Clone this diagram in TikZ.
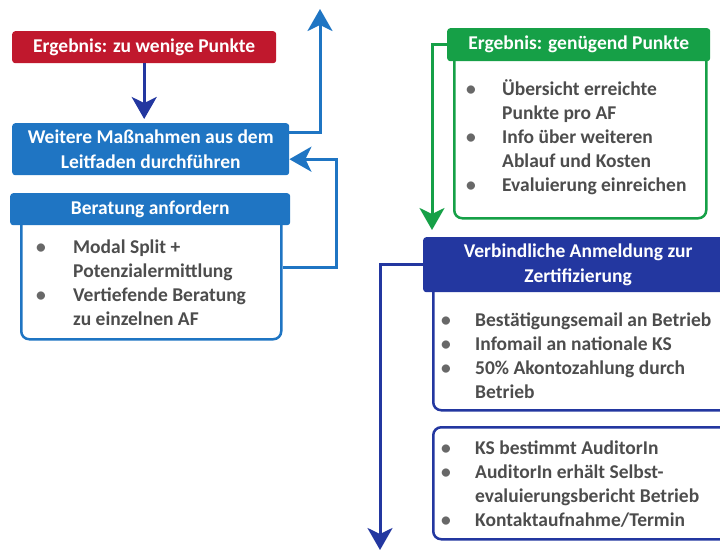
\documentclass[tikz,border=0pt]{standalone}
\usepackage{fontspec}
\setmainfont{Carlito}
\usetikzlibrary{arrows.meta}
\definecolor{rot}{HTML}{C0182D}
\definecolor{blau}{HTML}{1F75C3}
\definecolor{dunkelblau}{HTML}{2337A0}
\definecolor{gruen}{HTML}{16A047}
\definecolor{grau}{HTML}{4D4D4D}
\newcommand{\pkt}{\textcolor{grau!85}{\textbullet}}

\begin{document}
\begin{tikzpicture}[x=1pt,y=-1pt,
    kopf/.style={rounded corners=3pt,text=white,align=center,anchor=north west,inner sep=0pt,
      font=\bfseries\fontsize{19.5}{24.5}\selectfont},
    rahmen/.style={line width=2.5pt,rounded corners=8pt,fill=white,anchor=north west,inner sep=0pt},
    liste/.style={anchor=west,align=left,inner sep=0pt,text=grau,font=\bfseries\fontsize{19.5}{24}\selectfont},
    pfeil/.style={line width=3pt,-{Stealth[length=22pt,width=25pt,inset=6pt]}}]
        \useasboundingbox (0,0) rectangle (720,552);

        % linke Seite: zu wenige Punkte
        \node[kopf,fill=rot,minimum width=264pt,minimum height=32pt] (wenig) at (12,31) {Ergebnis: zu wenige Punkte};
        \node[kopf,fill=blau,minimum width=277pt,minimum height=52pt] (leitfaden) at (12,123) {Weitere Maßnahmen aus dem\\Leitfaden durchführen};

        % Beratung anfordern
        \node[rahmen,draw=blau,minimum width=260pt,minimum height=123pt] (beratung) at (20,215) {};
        \node[kopf,fill=blau,minimum width=280pt,minimum height=32pt] (beratungkopf) at (10,193) {Beratung anfordern};
        \node[liste] (beratungliste) at (36,284.5) {\begin{tabular}{@{}p{37pt}@{}l@{}}
            \pkt & Modal Split +\\ & Potenzialermittlung\\
            \pkt & Vertiefende Beratung\\ & zu einzelnen AF\end{tabular}};

        % rechte Seite: genügend Punkte
        \node[rahmen,draw=gruen,minimum width=252pt,minimum height=165pt] (genug) at (453,52) {};
        \node[kopf,fill=gruen,minimum width=263pt,minimum height=33pt] (genugkopf) at (447,28) {Ergebnis: genügend Punkte};
        \node[liste] (genugliste) at (466,138.5) {\begin{tabular}{@{}p{36pt}@{}l@{}}
            \pkt & Übersicht erreichte\\ & Punkte pro AF\\
            \pkt & Info über weiteren\\ & Ablauf und Kosten\\
            \pkt & Evaluierung einreichen\end{tabular}};

        % Anmeldung zur Zertifizierung
        \node[rahmen,draw=dunkelblau,minimum width=300pt,minimum height=126pt] (anmeldung) at (432,283) {};
        \node[kopf,fill=dunkelblau,minimum width=310pt,minimum height=55pt] (anmeldungkopf) at (423,237) {Verbindliche Anmeldung zur\\Zertifizierung};
        \node[liste] (anmeldungliste) at (441,358) {\begin{tabular}{@{}p{34pt}@{}l@{}}
            \pkt & Bestätigungsemail an Betrieb\\
            \pkt & Infomail an nationale KS\\
            \pkt & 50\% Akontozahlung durch\\ & Betrieb\end{tabular}};

        % Auditor
        \node[rahmen,draw=dunkelblau,minimum width=300pt,minimum height=112pt] (audit) at (432,426) {};
        \node[liste] (auditliste) at (441,485.5) {\begin{tabular}{@{}p{34pt}@{}l@{}}
            \pkt & KS bestimmt AuditorIn\\
            \pkt & AuditorIn erhält Selbst-\\ & evaluierungsbericht Betrieb\\
            \pkt & Kontaktaufnahme/Termin\end{tabular}};

        % Pfeile
        \coordinate (oben) at (320,9);
        \coordinate (gruenunten) at (432,230);
        \coordinate (blauunten) at (380,550);
        \draw[pfeil,dunkelblau] (wenig.south) -- ([yshift=4pt]wenig.south |- leitfaden.north);
        \draw[pfeil,blau] ([yshift=17pt]leitfaden.east) -| (oben);
        \draw[pfeil,blau] ([yshift=10pt]beratung.east) -- ++(54,0) |- ([yshift=-10pt]leitfaden.east);
        \draw[pfeil,gruen] (genugkopf.west) -| (gruenunten);
        \draw[pfeil,dunkelblau] (anmeldungkopf.west) -| (blauunten);
    \end{tikzpicture}
\end{document}
